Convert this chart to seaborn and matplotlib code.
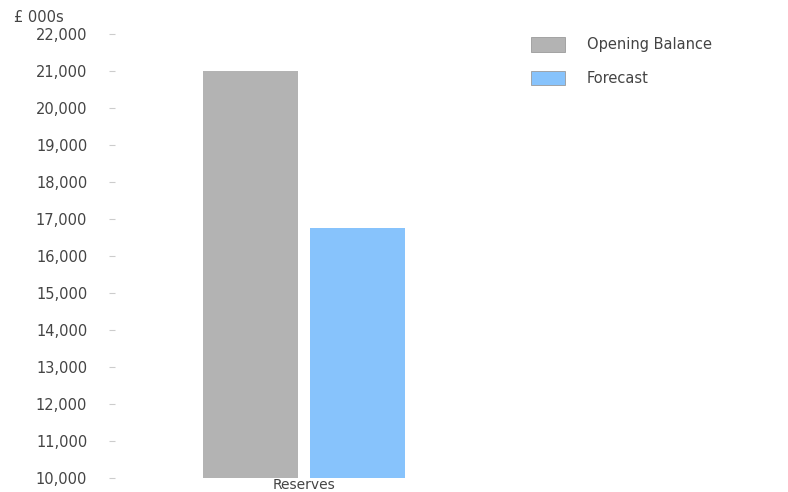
import matplotlib
matplotlib.use("Agg")
import matplotlib.pyplot as plt
import seaborn as sns
import pandas as pd

# Reserves position, £ thousands
categories = ["Reserves"]
series = ["Opening Balance", "Forecast"]
values = [21000, 16750]
y_ticks = [10000, 11000, 12000, 13000, 14000, 15000, 16000,
           17000, 18000, 19000, 20000, 21000, 22000]
colors = ["#b3b3b3", "#87c3fc"]

df = pd.DataFrame({
    "category": categories * len(series),
    "series": series,
    "value": values,
})

sns.set_theme(style="white")
plt.rcParams["font.family"] = "sans-serif"
plt.rcParams["font.sans-serif"] = ["DejaVu Sans"]

fig = plt.figure(figsize=(7.88, 4.92), dpi=100)
ax = fig.add_axes([115 / 788, 1 - 478 / 492, 378 / 788, (478 - 34) / 492])

sns.barplot(data=df, x="category", y="value", hue="series",
            palette=colors, saturation=1, width=0.571, gap=0.12, ax=ax,
            edgecolor="none", legend=True)

ax.set_xlim(-0.5, 0.5)
ax.set_ylim(10000, 22000)
ax.set_yticks(y_ticks)
ax.set_yticklabels([f"{v:,}" for v in y_ticks])
ax.set_xlabel("")
ax.set_ylabel("")
for s in ax.spines.values():
    s.set_visible(False)

ax.tick_params(axis="y", which="major", left=True, length=4, width=0.8,
               color="#cccccc", pad=16, labelsize=10.5, labelcolor="#444444")
ax.tick_params(axis="x", length=0, pad=0, labelsize=10, labelcolor="#444444")

fig.text(14 / 788, 1 - 18 / 492, "£ 000s", fontsize=10.5, color="#444444",
         va="center", ha="left")

handles, labels = ax.get_legend_handles_labels()
for h in handles:
    h.set_edgecolor("#9a9a9a")
    h.set_linewidth(0.6)
ax.legend(handles, labels, loc="upper left",
          bbox_to_anchor=(518 / 788, 1 - 24 / 492),
          bbox_transform=fig.transFigure, frameon=False,
          fontsize=10.5, labelcolor="#444444",
          handlelength=2.3, handleheight=1.15, handletextpad=1.5,
          labelspacing=1.25)

fig.savefig("out.png", dpi=100)
